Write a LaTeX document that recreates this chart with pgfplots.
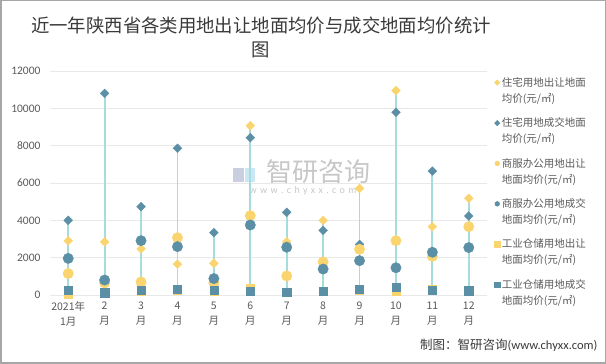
\documentclass[border=0pt]{standalone}
\usepackage{pgfplots}
\pgfplotsset{compat=1.18}
\usepackage{fontspec}
\setmainfont{Carlito}
\newfontfamily\cjk{Noto Sans CJK SC}
\definecolor{cy}{HTML}{F9D46F}
\definecolor{cb}{HTML}{5A8FA6}
\definecolor{cl}{HTML}{A6DCDA}
\definecolor{cg}{HTML}{595959}
\definecolor{gridc}{HTML}{E8E8E8}
\definecolor{titlec}{HTML}{3A3A3A}
\definecolor{logoa}{HTML}{C9CEE0}
\definecolor{logob}{HTML}{CBE6F4}
\begin{document}
\begin{tikzpicture}
\path[use as bounding box] (0,0) rectangle (606pt,364pt);
\draw[color=black!35, line width=1.5pt] (0.75pt,0.75pt) rectangle (605.25pt,363.25pt);
\node[align=center, color=titlec, font=\cjk\fontsize{18.4}{24}\selectfont] at (261pt,327pt) {近一年陕西省各类用地出让地面均价与成交地面均价统计\\图};
\fill[color=logoa] (233pt,182pt) rectangle (244pt,196pt);
\fill[color=logob] (245pt,182pt) rectangle (255pt,196pt);
\node[color=black!22, font=\cjk\fontsize{26}{28}\selectfont] at (318pt,192pt) {智研咨询};
\node[color=black!22, font=\fontsize{10}{12}\selectfont] at (303pt,173pt) {w\,\,w\,\,w\,\,.\,\,c\,\,h\,\,y\,\,x\,\,x\,\,.\,\,c\,\,o\,\,m};
\node[anchor=east, color=titlec, font=\fontsize{12.5}{14}\selectfont] at (601pt,19pt) {{\cjk 制图：智研咨询}(www.chyxx.com)};
\begin{axis}[
  at={(50pt,69pt)}, anchor=south west, scale only axis,
  width=437pt, height=224pt,
  xmin=-0.5, xmax=11.5, ymin=0, ymax=12000,
  ytick={0,2000,...,12000}, xtick={0,...,11}, scaled y ticks=false,
  xticklabels={{2021年\\1月},{2\\月},{3\\月},{4\\月},{5\\月},{6\\月},{7\\月},{8\\月},{9\\月},{10\\月},{11\\月},{12\\月}},
  axis line style={draw=none}, major tick length=0,
  ymajorgrids, grid style={color=gridc, line width=0.7pt},
  clip=false,
  tick label style={color=cg, font=\fontsize{11.5}{13}\selectfont},
  xticklabel style={align=center, font=\cjk\fontsize{10.5}{15.5}\selectfont, yshift=-3pt},
  yticklabel style={xshift=-6pt},
  /pgf/number format/1000 sep={}, /pgf/number format/assume math mode=true,
  legend style={at={(1.01,0.99)}, anchor=north west, draw=none, fill=none,
    font=\cjk\fontsize{10.5}{16}\selectfont, text=cg, nodes={align=left}, row sep=10pt},
  legend cell align=left,
  legend image code/.code={\path[draw=none,fill=none] (-2pt,-8pt) rectangle (2pt,-7.9pt); \draw[mark repeat=2,mark phase=2,#1] plot coordinates {(-2pt,8pt)(0pt,8pt)(2pt,8pt)};},
]
\addplot[ycomb, color=cl, line width=1.8pt, forget plot] coordinates {
(0,4000)(1,10800)(2,4730)(3,7860)(4,3340)(5,9070)(6,4430)(7,4000)(8,5710)(9,10950)(10,6640)(11,5180)};
\addplot[only marks, mark=square*, mark size=3.1pt, mark options={rotate=45, fill=cy, draw=cy}, legend image post style={mark size=1.9pt}] coordinates {
(0,2900)(1,2850)(2,2470)(3,1650)(4,1700)(5,9070)(6,2850)(7,4000)(8,5710)(9,10950)(10,3660)(11,5180)};
\addlegendentry{住宅用地出让地面\\均价(元/㎡)}
\addplot[only marks, mark=square*, mark size=3.1pt, mark options={rotate=45, fill=cb, draw=cb}, legend image post style={mark size=1.9pt}] coordinates {
(0,4000)(1,10800)(2,4730)(3,7860)(4,3340)(5,8430)(6,4430)(7,3460)(8,2710)(9,9790)(10,6640)(11,4230)};
\addlegendentry{住宅用地成交地面\\均价(元/㎡)}
\addplot[only marks, mark=*, mark size=5.2pt, mark options={fill=cy, draw=cy}, legend image post style={mark size=2.4pt}] coordinates {
(0,1150)(1,650)(2,700)(3,3070)(4,650)(5,4250)(6,1020)(7,1770)(8,2450)(9,2910)(10,2070)(11,3660)};
\addlegendentry{商服办公用地出让\\地面均价(元/㎡)}
\addplot[only marks, mark=*, mark size=5.2pt, mark options={fill=cb, draw=cb}, legend image post style={mark size=2.4pt}] coordinates {
(0,1960)(1,800)(2,2910)(3,2590)(4,880)(5,3750)(6,2560)(7,1390)(8,1840)(9,1460)(10,2290)(11,2540)};
\addlegendentry{商服办公用地成交\\地面均价(元/㎡)}
\addplot[only marks, mark=square*, mark size=4.1pt, mark options={fill=cy, draw=cy}, legend image post style={mark size=2.6pt}] coordinates {
(0,60)(1,100)(2,200)(3,280)(4,220)(5,380)(6,150)(7,200)(8,280)(9,220)(10,320)(11,220)};
\addlegendentry{工业仓储用地出让\\地面均价(元/㎡)}
\addplot[only marks, mark=square*, mark size=4.1pt, mark options={fill=cb, draw=cb}, legend image post style={mark size=2.6pt}] coordinates {
(0,270)(1,125)(2,270)(3,320)(4,270)(5,210)(6,160)(7,210)(8,290)(9,410)(10,250)(11,230)};
\addlegendentry{工业仓储用地成交\\地面均价(元/㎡)}
\end{axis}
\end{tikzpicture}
\end{document}
